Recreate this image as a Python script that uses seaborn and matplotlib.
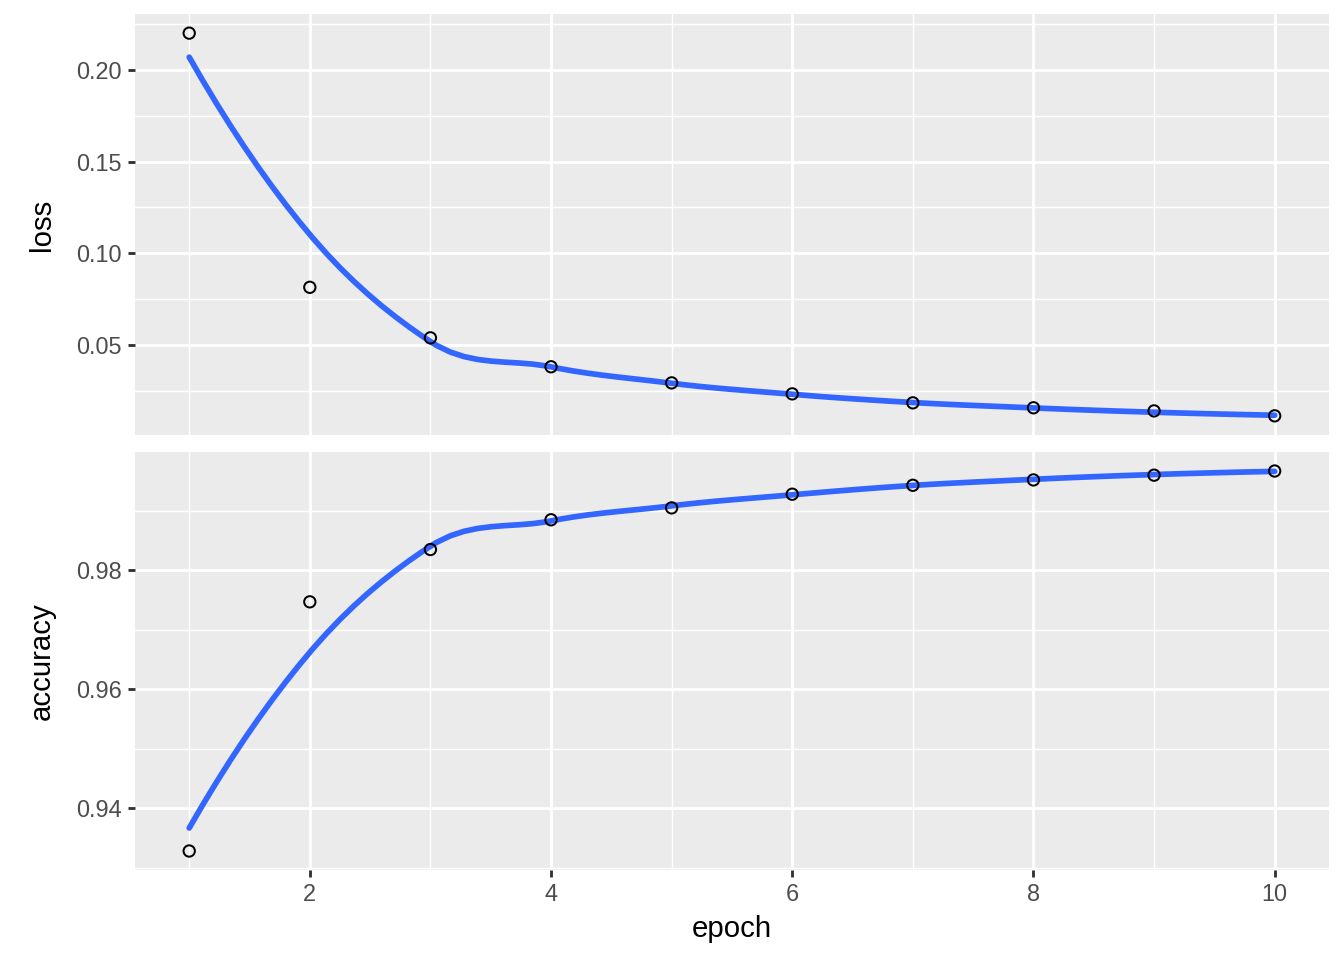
import numpy as np
import pandas as pd
import matplotlib
matplotlib.use("Agg")
import matplotlib.pyplot as plt
from matplotlib.ticker import MultipleLocator, FormatStrFormatter
import seaborn as sns

# training history
epoch = [1, 2, 3, 4, 5, 6, 7, 8, 9, 10]
loss = [0.2202, 0.0814, 0.0538, 0.0380, 0.0292, 0.0232, 0.0183, 0.0156, 0.0139, 0.0112]
accuracy = [0.9328, 0.9747, 0.9835, 0.9885, 0.9905, 0.9928, 0.9943, 0.9952, 0.9960, 0.9967]


def local_fit(x, y, x0, q):
    # local quadratic with tricube weights, returns value and slope at x0
    d = np.abs(x - x0)
    h = np.sort(d)[q - 1] * 1.0001
    w = np.clip(1 - (d / h) ** 3, 0, None) ** 3
    X = np.column_stack([np.ones_like(x), x - x0, (x - x0) ** 2])
    W = np.diag(w)
    beta = np.linalg.solve(X.T @ W @ X, X.T @ W @ y)
    return beta[0], beta[1]


def split_points(xs, lo, hi, fc):
    # kd-tree cell splits at data points, as R's loess surface does
    if len(xs) <= fc:
        return []
    m = (len(xs) - 1) // 2
    v = xs[m]
    if v == lo or v == hi:
        return []
    return split_points(xs[:m + 1], lo, v, fc) + [v] + split_points(xs[m + 1:], v, hi, fc)


def loess(x, y, grid, span=0.75):
    x = np.asarray(x, float)
    y = np.asarray(y, float)
    n = len(x)
    q = int(np.floor(n * span))
    fc = max(int(np.floor(n * span * 0.2)), 1)
    mu = 0.005 * (x.max() - x.min())
    lo, hi = x.min() - mu, x.max() + mu
    verts = np.array([lo] + split_points(sorted(x), lo, hi, fc) + [hi])
    vals = np.array([local_fit(x, y, v, q) for v in verts])
    out = []
    for g in grid:
        i = min(np.searchsorted(verts, g, side="right") - 1, len(verts) - 2)
        x0, x1 = verts[i], verts[i + 1]
        hw = x1 - x0
        t = (g - x0) / hw
        f0, d0 = vals[i]
        f1, d1 = vals[i + 1]
        h00 = 2 * t**3 - 3 * t**2 + 1
        h10 = t**3 - 2 * t**2 + t
        h01 = -2 * t**3 + 3 * t**2
        h11 = t**3 - t**2
        out.append(h00 * f0 + h10 * hw * d0 + h01 * f1 + h11 * hw * d1)
    return np.array(out)


sns.set_theme(style="darkgrid")
plt.rcParams["font.family"] = ["Liberation Sans", "DejaVu Sans"]

fig = plt.figure(figsize=(7, 5), dpi=192)
ax_loss = fig.add_axes([0.1004, 0.5469, 0.8884, 0.4385])
ax_acc = fig.add_axes([0.1004, 0.09375, 0.8884, 0.4354])

grid_x = np.linspace(min(epoch), max(epoch), 80)
panels = [
    (ax_loss, loss, "loss", 0.05, 0.025),
    (ax_acc, accuracy, "accuracy", 0.02, 0.01),
]

for ax, values, name, major, minor in panels:
    df = pd.DataFrame({"epoch": epoch, name: values})
    smooth = pd.DataFrame({"epoch": grid_x, name: loess(epoch, values, grid_x)})

    ax.set_facecolor("#EBEBEB")
    ax.set_axisbelow(True)
    sns.lineplot(data=smooth, x="epoch", y=name, color="#3366FF",
                 linewidth=2.13, ax=ax, zorder=2)
    sns.scatterplot(data=df, x="epoch", y=name, marker="o", s=18,
                    facecolor="none", edgecolor="black", linewidth=0.75,
                    ax=ax, zorder=3)

    lo = min(min(values), smooth[name].min())
    hi = max(max(values), smooth[name].max())
    pad = (hi - lo) * 0.05
    ax.set_ylim(lo - pad, hi + pad)
    ax.set_xlim(1 - 0.45, 10 + 0.45)

    ax.xaxis.set_major_locator(MultipleLocator(2))
    ax.xaxis.set_minor_locator(MultipleLocator(1))
    ax.yaxis.set_major_locator(MultipleLocator(major))
    ax.yaxis.set_minor_locator(MultipleLocator(minor))
    ax.yaxis.set_major_formatter(FormatStrFormatter("%.2f"))

    ax.grid(which="major", color="white", linewidth=1.07)
    ax.grid(which="minor", color="white", linewidth=0.53)
    for s in ax.spines.values():
        s.set_visible(False)

    ax.tick_params(which="major", length=2.75, width=1.07, color="#333333",
                   labelsize=8.8, labelcolor="#4D4D4D", pad=2.2)
    ax.tick_params(which="minor", length=0)
    ax.tick_params(axis="y", which="major", left=True)

    ax.set_ylabel(name, fontsize=11, color="black")
    ax.yaxis.set_label_coords(-0.066, 0.5)

ax_loss.tick_params(axis="x", which="major", bottom=False, labelbottom=False)
ax_loss.set_xlabel("")
ax_acc.tick_params(axis="x", which="major", bottom=True)
ax_acc.set_xlabel("epoch", fontsize=11, color="black")
ax_acc.xaxis.set_label_coords(0.5, -0.108)

fig.savefig("out.png", dpi=192, facecolor="white")
